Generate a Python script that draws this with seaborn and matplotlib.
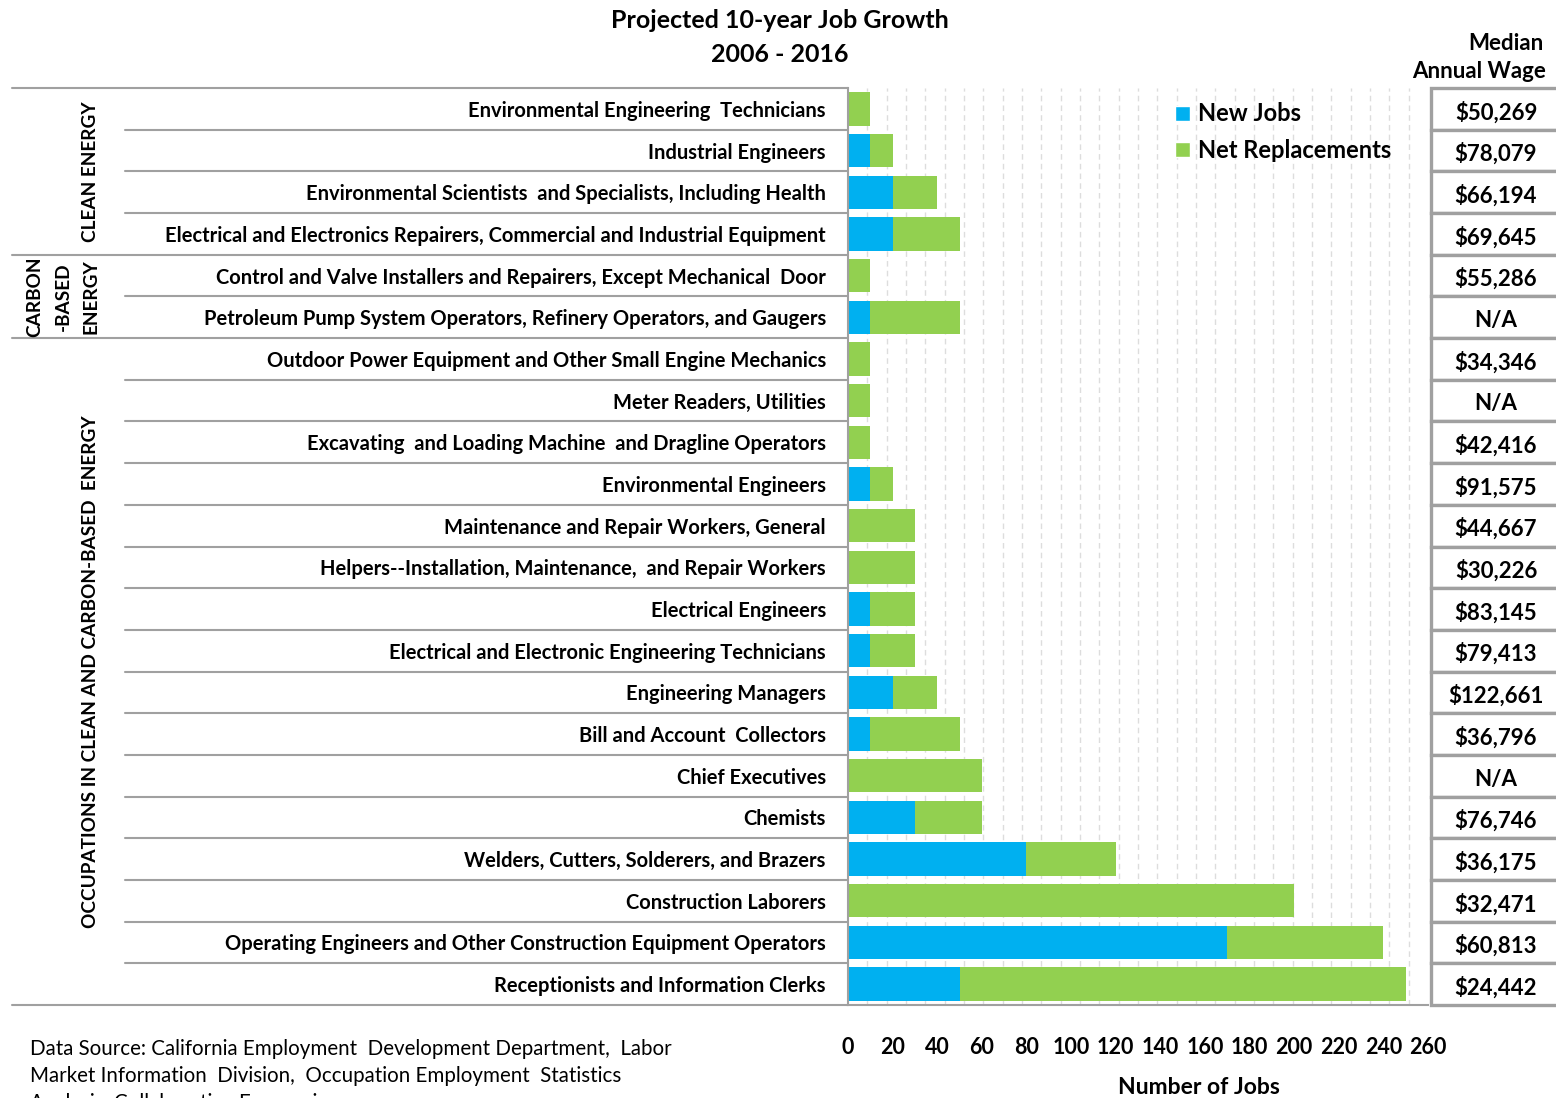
import matplotlib
matplotlib.use("Agg")
import matplotlib.pyplot as plt
import seaborn as sns
import pandas as pd
from matplotlib.transforms import blended_transform_factory
from matplotlib.patches import Patch, Rectangle

occupations = [
    "Environmental Engineering  Technicians",
    "Industrial Engineers",
    "Environmental Scientists  and Specialists, Including Health",
    "Electrical and Electronics Repairers, Commercial and Industrial Equipment",
    "Control and Valve Installers and Repairers, Except Mechanical  Door",
    "Petroleum Pump System Operators, Refinery Operators, and Gaugers",
    "Outdoor Power Equipment and Other Small Engine Mechanics",
    "Meter Readers, Utilities",
    "Excavating  and Loading Machine  and Dragline Operators",
    "Environmental Engineers",
    "Maintenance and Repair Workers, General",
    "Helpers--Installation, Maintenance,  and Repair Workers",
    "Electrical Engineers",
    "Electrical and Electronic Engineering Technicians",
    "Engineering Managers",
    "Bill and Account  Collectors",
    "Chief Executives",
    "Chemists",
    "Welders, Cutters, Solderers, and Brazers",
    "Construction Laborers",
    "Operating Engineers and Other Construction Equipment Operators",
    "Receptionists and Information Clerks",
]
new_jobs = [0, 10, 20, 20, 0, 10, 0, 0, 0, 10, 0, 0, 10, 10, 20, 10, 0, 30, 80, 0, 170, 50]
net_replacements = [10, 10, 20, 30, 10, 40, 10, 10, 10, 10, 30, 30, 20, 20, 20, 40, 60, 30, 40, 200, 70, 200]
wages = ["$50,269", "$78,079", "$66,194", "$69,645", "$55,286", "N/A", "$34,346", "N/A",
         "$42,416", "$91,575", "$44,667", "$30,226", "$83,145", "$79,413", "$122,661",
         "$36,796", "N/A", "$76,746", "$36,175", "$32,471", "$60,813", "$24,442"]
group_labels = [["CLEAN ENERGY"], ["CARBON", "-BASED", "ENERGY"],
                ["OCCUPATIONS IN CLEAN AND CARBON-BASED  ENERGY"]]
group_sizes = [4, 2, 16]
x_ticks = list(range(0, 261, 20))

BLUE = "#00B0F0"
GREEN = "#92D050"
GREY = "#A0A0A0"

sns.set_theme(style="white")
plt.rcParams["font.family"] = ["Lato", "DejaVu Sans"]
plt.rcParams["text.color"] = "black"
plt.rcParams["xtick.color"] = "black"
plt.rcParams["ytick.color"] = "black"

df = pd.DataFrame({"Occupation": occupations, "New Jobs": new_jobs,
                   "Net Replacements": net_replacements})
df["Total"] = df["New Jobs"] + df["Net Replacements"]

W, H = 1556, 1098
fig = plt.figure(figsize=(W / 100, H / 100), dpi=100)
ax = fig.add_axes([848 / W, 1 - 1005 / H, 580 / W, 917 / H])

def px(p):
    return (p - 848) / 580.0

sns.barplot(data=df, y="Occupation", x="Total", color=GREEN, orient="h", width=0.8,
            saturation=1, errorbar=None, linewidth=0, ax=ax)
sns.barplot(data=df, y="Occupation", x="New Jobs", color=BLUE, orient="h", width=0.8,
            saturation=1, errorbar=None, linewidth=0, ax=ax)

ax.set_xlim(0, 260)
ax.set_ylim(len(occupations) - 0.5, -0.5)
ax.set_xlabel("")
ax.set_ylabel("")

# gridlines
minor = [i * 260 / 30 for i in range(1, 31)]
ax.set_xticks(minor, minor=True)
ax.grid(axis="x", which="minor", color="#DDDDDD", linestyle=(0, (4, 3)), linewidth=1)
ax.set_axisbelow(True)

ax.set_xticks(x_ticks)
ax.set_xticklabels([str(t) for t in x_ticks], fontsize=15.5, fontweight="bold", color="black")
ax.tick_params(axis="x", which="both", length=0, pad=23)
ax.tick_params(axis="y", length=0, pad=16)
for lab in ax.get_yticklabels():
    lab.set_fontsize(14.5)
    lab.set_fontweight("bold")
    lab.set_color("black")

for s in ["top", "right"]:
    ax.spines[s].set_visible(False)
ax.spines["left"].set_color(GREY)
ax.spines["left"].set_linewidth(1.5)
ax.spines["bottom"].set_color(GREY)
ax.spines["bottom"].set_linewidth(1.5)

trans = blended_transform_factory(ax.transAxes, ax.transData)

# row separators
group_edges = [0]
for g in group_sizes:
    group_edges.append(group_edges[-1] + g)
for i in range(len(occupations) + 1):
    y = i - 0.5
    x0 = px(12) if i in group_edges else px(125)
    ax.plot([x0, 0], [y, y], color=GREY, lw=1.5, transform=trans, clip_on=False)

# group labels (one text per line, right-most line at the common column)
line_x = [91, 63, 35]
for gi, lines in enumerate(group_labels):
    start, end = group_edges[gi], group_edges[gi + 1]
    yc = (start + end - 1) / 2
    n = len(lines)
    for li, txt in enumerate(lines):
        xpix = line_x[n - 1 - li]
        ax.text(px(xpix), yc, txt, rotation=90, ha="center", va="center", fontsize=13.7,
                fontweight="bold", transform=trans)

# wage boxes
for i, w in enumerate(wages):
    r = Rectangle((px(1431), i - 0.5), px(1570) - px(1431), 1.0, transform=trans,
                  facecolor="white", edgecolor=GREY, lw=2.4, clip_on=False)
    ax.add_patch(r)
    ax.text(px(1496), i + 0.08, w, ha="center", va="center", fontsize=16, fontweight="bold",
            transform=trans, clip_on=False)

# legend
handles = [Patch(facecolor=BLUE, label="New Jobs"), Patch(facecolor=GREEN, label="Net Replacements")]
ax.legend(handles=handles, loc="upper left", bbox_to_anchor=(px(1166), 1 - 5 / 917),
          frameon=False, prop={"weight": "bold", "size": 17}, handlelength=0.6,
          handleheight=0.6, handletextpad=0.35, labelspacing=0.58, borderaxespad=0)

# titles and texts
fig.text(780 / W, 1 - 20 / H, "Projected 10-year Job Growth", ha="center", va="center",
         fontsize=18, fontweight="bold")
fig.text(780 / W, 1 - 54 / H, "2006 - 2016", ha="center", va="center",
         fontsize=18, fontweight="bold")
fig.text(1543 / W, 1 - 44 / H, "Median", ha="right", va="center", fontsize=16, fontweight="bold")
fig.text(1546 / W, 1 - 72 / H, "Annual Wage", ha="right", va="center", fontsize=16,
         fontweight="bold")
fig.text(1199 / W, 1 - 1087 / H, "Number of Jobs", ha="center", va="center", fontsize=16.5,
         fontweight="bold")
src = ["Data Source: California Employment  Development Department,  Labor",
       "Market Information  Division,  Occupation Employment  Statistics",
       "Analysis: Collaborative Economics"]
for k, line in enumerate(src):
    fig.text(30 / W, 1 - (1049 + 27 * k) / H, line, ha="left", va="center", fontsize=14.8)

fig.savefig("out.png", dpi=100)
